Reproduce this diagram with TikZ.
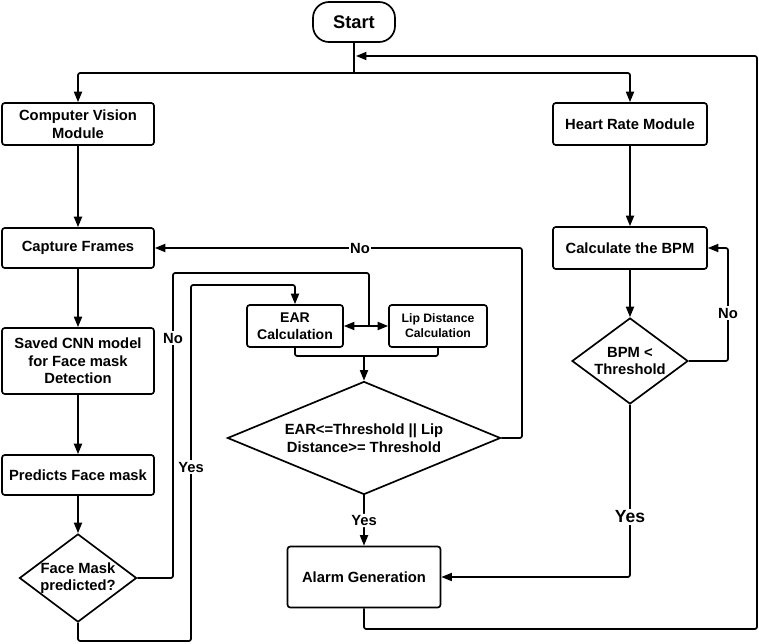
\documentclass[tikz,border=0pt]{standalone}
\usepackage{fontspec}
\setmainfont{Liberation Sans}
\usepackage{tikz}
\usetikzlibrary{shapes.geometric, arrows.meta, positioning, calc}

\begin{document}
\begin{tikzpicture}[x=0.025cm,y=-0.025cm,
    box/.style={rectangle,draw,line width=1.2pt,rounded corners=2pt,align=center,inner sep=0pt,
        font=\fontsize{10.5}{12.5}\selectfont\bfseries},
    decision/.style={diamond,draw,line width=1.2pt,align=center,inner sep=0pt,aspect=1.33,
        font=\fontsize{10.5}{12.5}\selectfont\bfseries},
    line/.style={line width=1.2pt,rounded corners=1.5pt},
    arr/.style={line,-{Triangle[length=2.6mm,width=2mm]}},
    lbl/.style={fill=white,inner sep=1pt,font=\fontsize{10.5}{12.5}\selectfont\bfseries}]
    \useasboundingbox (0,0) rectangle (759,644);

    % Inizio
    \node[box,rounded corners=0.4cm,minimum width=2.05cm,minimum height=1cm,font=\fontsize{13}{15}\selectfont\bfseries] (start) at (354,22) {Start};

    % Ramo visione artificiale
    \node[box,minimum width=3.8cm,minimum height=1.05cm] (cv) at (78,124) {Computer Vision\\Module};
    \node[box,minimum width=3.8cm,minimum height=1cm] (capture) at (78,248) {Capture Frames};
    \node[box,minimum width=3.8cm,minimum height=1.65cm] (cnn) at (78,361) {Saved CNN model\\for Face mask\\Detection};
    \node[box,minimum width=3.8cm,minimum height=1cm] (predict) at (78,475) {Predicts Face mask};
    \node[decision,minimum width=2.9cm,minimum height=2.175cm] (facemask) at (78,578) {Face Mask\\predicted?};

    \node[box,minimum width=2.4cm,minimum height=1.05cm,font=\fontsize{10}{12}\selectfont\bfseries] (ear) at (295,326) {EAR\\Calculation};
    \node[box,minimum width=2.45cm,minimum height=1.05cm,font=\fontsize{8.7}{10.5}\selectfont\bfseries] (lip) at (438,326) {Lip Distance\\Calculation};
    \node[decision,aspect=2.42,minimum width=6.825cm,minimum height=2.825cm] (cond) at (364,438) {EAR<=Threshold || Lip\\Distance>= Threshold};
    \node[box,minimum width=3.825cm,minimum height=1.525cm] (alarm) at (364,577) {Alarm Generation};

    % Ramo battito cardiaco
    \node[box,minimum width=3.85cm,minimum height=1.05cm] (hr) at (630,124) {Heart Rate Module};
    \node[box,minimum width=3.85cm,minimum height=1.05cm] (bpm) at (630,248) {Calculate the BPM};
    \node[decision,minimum width=2.9cm,minimum height=2.15cm] (bpmcheck) at (630,361) {BPM <\\Threshold};

    % Punti di giunzione
    \coordinate (split) at (354,73);
    \coordinate (loopback) at (356,56);
    \coordinate (nojoin) at (369,326);
    \coordinate (merge) at (364,356);

    % Connessioni
    \draw[line] (start) -- (split);
    \draw[arr] (split) -| (cv);
    \draw[arr] (split) -| (hr);
    \draw[arr] (cv) -- (capture);
    \draw[arr] (capture) -- (cnn);
    \draw[arr] (cnn) -- (predict);
    \draw[arr] (predict) -- (facemask);

    \draw[line] (facemask.east) -| (173,273) -| (nojoin);
    \draw[arr] (nojoin) -- (ear.east);
    \draw[arr] (nojoin) -- (lip.west);
    \node[lbl] (nomask) at (173,338) {No};

    \draw[arr] (facemask.south) |- (191,641) -- (191,285) -| (ear.north);
    \node[lbl] (yesmask) at (191,467) {Yes};

    \draw[line] (ear.south) |- (merge) -| (lip.south);
    \draw[arr] (merge) -- (cond.north);
    \draw[arr] (cond.east) -| (522,248) -- (capture.east);
    \node[lbl] (nocond) at (360,248) {No};
    \draw[arr] (cond.south) -- node[lbl] (yescond) {Yes} (alarm.north);

    \draw[arr] (hr) -- (bpm);
    \draw[arr] (bpm) -- (bpmcheck);
    \draw[arr] (bpmcheck.east) -| (728,248) -- (bpm.east);
    \node[lbl] (nobpm) at (728,313) {No};
    \draw[arr] (bpmcheck.south) |- (alarm.east);
    \node[lbl,font=\fontsize{12.5}{15}\selectfont\bfseries] (yesbpm) at (630,517) {Yes};

    \draw[arr] (alarm.south) |- (757,629) |- (loopback);
\end{tikzpicture}
\end{document}
